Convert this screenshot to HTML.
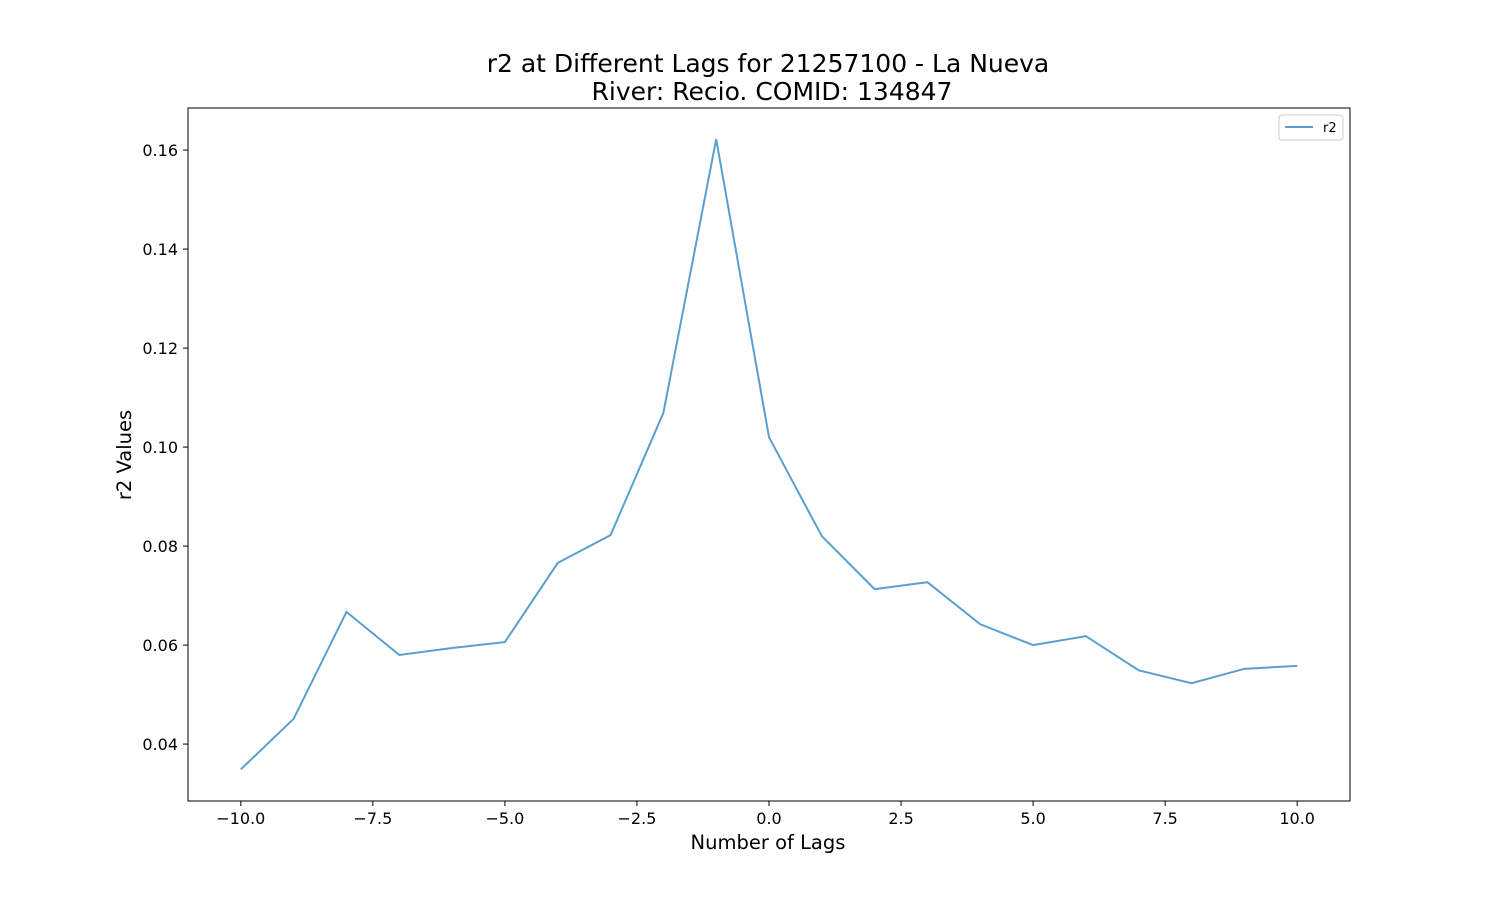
<!DOCTYPE html>
<html><head><meta charset="utf-8"><style>
body{margin:0;background:#fff;}
svg{display:block;font-family:"DejaVu Sans","Liberation Sans",sans-serif;}
</style></head><body>
<svg id="chart" width="1500" height="900">
<text x="768" y="72" font-size="25" text-anchor="middle">r2 at Different Lags for 21257100 - La Nueva</text>
<text x="772" y="100" font-size="25" text-anchor="middle">River: Recio. COMID: 134847</text>
<g id="xt"></g><g id="yt"></g>
<polyline id="line" fill="none" stroke="#5b9fce" stroke-width="2"/>
<rect x="188" y="108" width="1162" height="693" fill="none" stroke="#000" stroke-width="1"/>
<text x="768" y="849" font-size="19.5" text-anchor="middle">Number of Lags</text>
<text x="131" y="455" font-size="19.5" text-anchor="middle" transform="rotate(-90 131 455)">r2 Values</text>
<g>
<rect x="1279" y="115" width="64" height="25" rx="3" fill="#fff" stroke="#ccc"/>
<line x1="1285" y1="127" x2="1313" y2="127" stroke="#5b9fce" stroke-width="2"/>
<text x="1323" y="132" font-size="13">r2</text>
</g>
</svg>
<script>
const lags=[-10,-9,-8,-7,-6,-5,-4,-3,-2,-1,0,1,2,3,4,5,6,7,8,9,10];
const r2=[0.0349,0.0451,0.0667,0.0580,0.0594,0.0606,0.0766,0.0822,0.1069,0.1622,0.1020,0.0820,0.0713,0.0727,0.0642,0.0600,0.0618,0.0549,0.0523,0.0552,0.0558];
const xTicks=[-10,-7.5,-5,-2.5,0,2.5,5,7.5,10];
const yTicks=[0.04,0.06,0.08,0.10,0.12,0.14,0.16];
const xs=v=>188+(v+11)/22*1162;
const ys=v=>801-(v-0.0285)/(0.1685-0.0285)*693;
const NS='http://www.w3.org/2000/svg';
const xt=document.getElementById('xt'),yt=document.getElementById('yt');
xTicks.forEach(t=>{
 const l=document.createElementNS(NS,'line');
 l.setAttribute('x1',xs(t));l.setAttribute('x2',xs(t));l.setAttribute('y1',801);l.setAttribute('y2',806);l.setAttribute('stroke','#000');
 
 
 xt.appendChild(l);
 const s=document.createElementNS(NS,'text');
 s.setAttribute('x',xs(t));s.setAttribute('y',824);s.setAttribute('font-size','16');s.setAttribute('text-anchor','middle');
 s.textContent=(t<0?'\u2212':'')+Math.abs(t).toFixed(1);
 
 
 xt.appendChild(s);
});
yTicks.forEach(t=>{
 const l=document.createElementNS(NS,'line');
 l.setAttribute('x1',183);l.setAttribute('x2',188);l.setAttribute('y1',ys(t));l.setAttribute('y2',ys(t));l.setAttribute('stroke','#000');
 
 
 yt.appendChild(l);
 const s=document.createElementNS(NS,'text');
 s.setAttribute('x',178);s.setAttribute('y',ys(t)+6);s.setAttribute('font-size','16');s.setAttribute('text-anchor','end');
 s.textContent=t.toFixed(2);
 
 
 yt.appendChild(s);
});
document.getElementById('line').setAttribute('points',lags.map((v,i)=>xs(v)+','+ys(r2[i])).join(' '));
</script>
</body></html>
